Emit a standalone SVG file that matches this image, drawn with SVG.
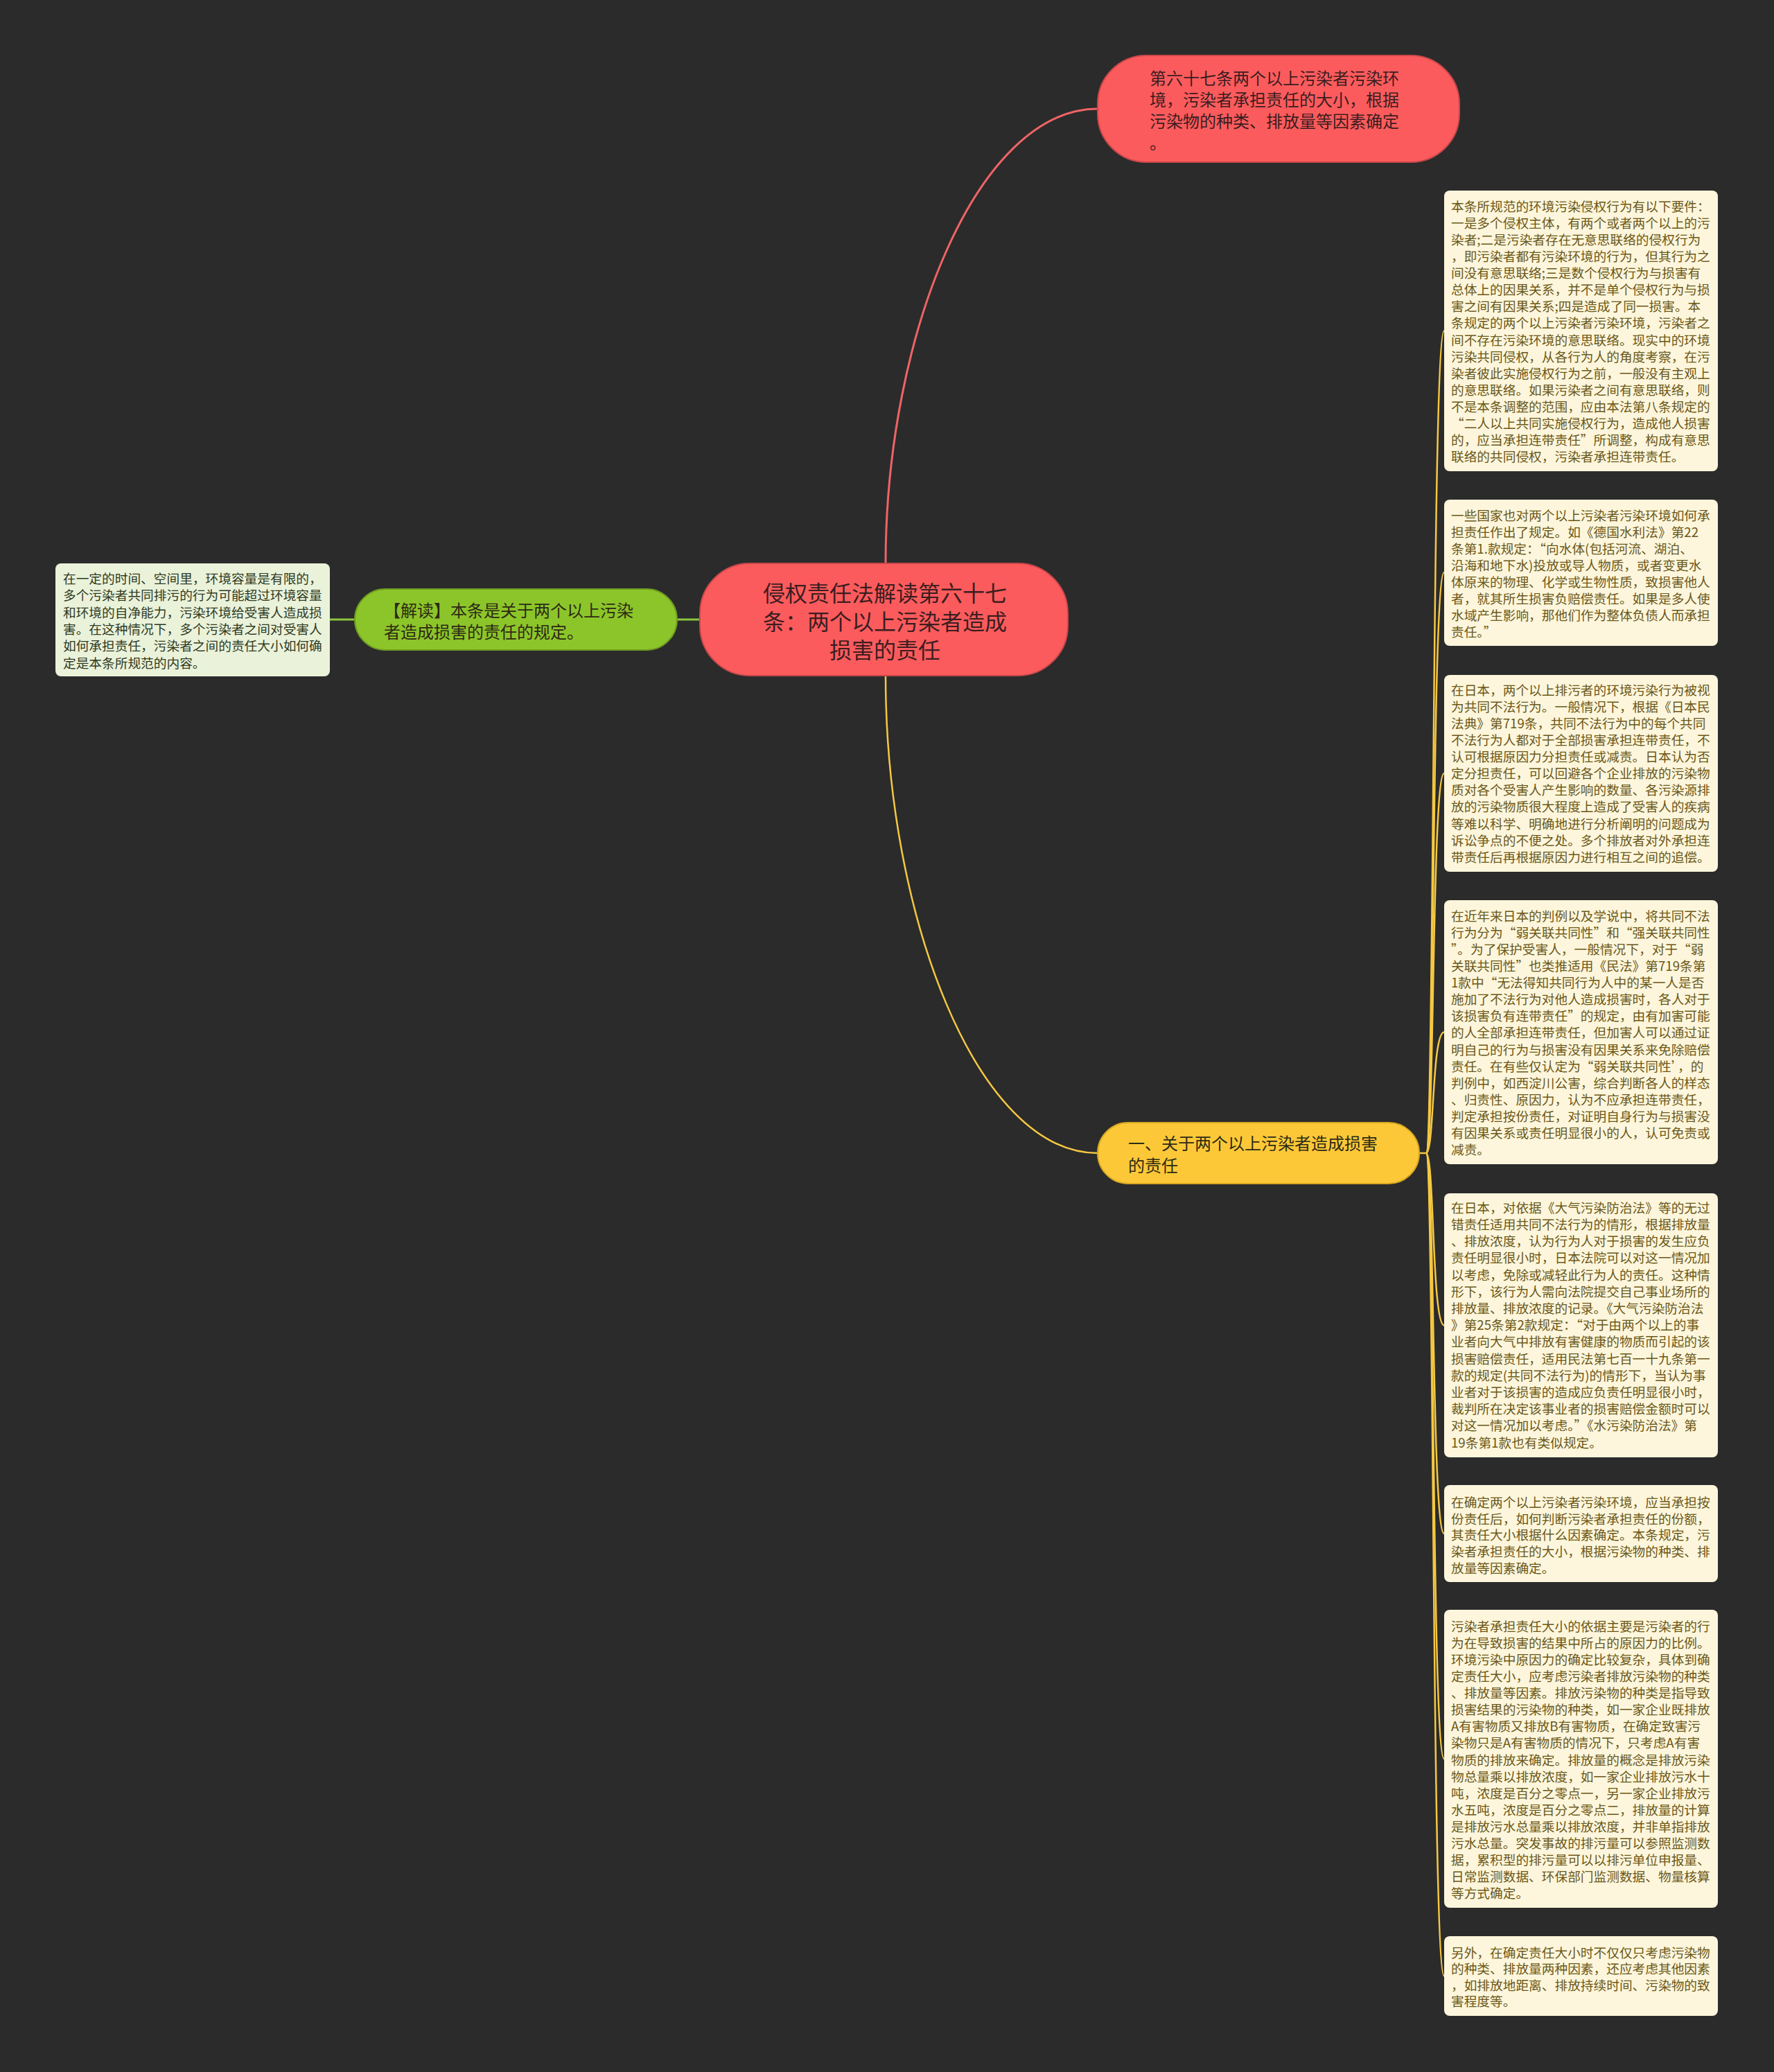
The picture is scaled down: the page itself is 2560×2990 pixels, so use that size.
<svg xmlns="http://www.w3.org/2000/svg" width="2560" height="2990" viewBox="0 0 2560 2990">
<style>
text{font-family:"Noto Sans CJK SC","Noto Sans",sans-serif;}
.box{fill:#fdf6dc;}
.bt{font-size:18.7px;fill:#6b5718;}
.lbox{fill:#eaf2da;}
.lt{font-size:18.7px;fill:#2f3a22;}
.red{fill:#fb5b5c;stroke:#c8474a;stroke-width:2;}
.rt{fill:#3b1d21;}
.grn{fill:#8cc52a;stroke:#6f9d1f;stroke-width:2;}
.yel{fill:#fcc838;stroke:#d9a820;stroke-width:2;}
.dt{fill:#2c2a14;font-size:24px;}
.cr{fill:none;stroke:#ef6466;stroke-width:3;}
.cy{fill:none;stroke:#f5c842;stroke-width:2.5;}
.cg{fill:none;stroke:#8cc63f;stroke-width:3;}
</style>
<rect x="0" y="0" width="2560" height="2990" fill="#2b2b2b"/>

<g id="connectors">
<path class="cr" d="M1278,813 C1278,485 1410,157 1584,157"/>
<path class="cy" d="M1278,975 C1278,1320 1410,1664 1584,1664"/>
<path class="cg" d="M476,894 L512,894"/>
<path class="cg" d="M977,894 L1010,894"/>
<path class="cy" d="M2048,1664 L2058,1664"/>
<path class="cy" d="M2058,1664 C2070,1664 2066,477.5 2084,477.5"/>
<path class="cy" d="M2058,1664 C2070,1664 2066,826 2084,826"/>
<path class="cy" d="M2058,1664 C2070,1664 2066,1116 2084,1116"/>
<path class="cy" d="M2058,1664 C2070,1664 2066,1489.5 2084,1489.5"/>
<path class="cy" d="M2058,1664 C2070,1664 2066,1912.5 2084,1912.5"/>
<path class="cy" d="M2058,1664 C2070,1664 2066,2213 2084,2213"/>
<path class="cy" d="M2058,1664 C2070,1664 2066,2538 2084,2538"/>
<path class="cy" d="M2058,1664 C2070,1664 2066,2851.5 2084,2851.5"/>
</g>

<g id="center">
<rect class="red" x="1010" y="813" width="531" height="162" rx="72" ry="72"/>
<text class="rt" font-size="32" text-anchor="middle"><tspan x="1277" y="867.5">侵权责任法解读第六十七</tspan><tspan x="1277" y="908.5">条：两个以上污染者造成</tspan><tspan x="1277" y="949.5">损害的责任</tspan></text>
</g>

<g id="top-node">
<rect class="red" x="1584" y="80" width="522" height="154" rx="70" ry="70"/>
<text class="rt" font-size="24"><tspan x="1659" y="121.6">第六十七条两个以上污染者污染环</tspan><tspan x="1659" y="152.6">境，污染者承担责任的大小，根据</tspan><tspan x="1659" y="183.6">污染物的种类、排放量等因素确定</tspan><tspan x="1659" y="214.6">。</tspan></text>
</g>

<g id="green-node">
<rect class="grn" x="512" y="850" width="465" height="88" rx="44" ry="44"/>
<text class="dt"><tspan x="554" y="889.6">【解读】本条是关于两个以上污染</tspan><tspan x="554" y="920.6">者造成损害的责任的规定。</tspan></text>
</g>

<g id="left-box">
<rect class="lbox" x="80" y="813" width="396" height="163" rx="8" ry="8"/>
<text class="lt"><tspan x="91" y="841.7">在一定的时间、空间里，环境容量是有限的，</tspan><tspan x="91" dy="24.4">多个污染者共同排污的行为可能超过环境容量</tspan><tspan x="91" dy="24.4">和环境的自净能力，污染环境给受害人造成损</tspan><tspan x="91" dy="24.4">害。在这种情况下，多个污染者之间对受害人</tspan><tspan x="91" dy="24.4">如何承担责任，污染者之间的责任大小如何确</tspan><tspan x="91" dy="24.4">定是本条所规范的内容。</tspan></text>
</g>

<g id="yellow-node">
<rect class="yel" x="1584" y="1620" width="464" height="88" rx="44" ry="44"/>
<text class="dt"><tspan x="1628" y="1658.6">一、关于两个以上污染者造成损害</tspan><tspan x="1628" y="1690.6">的责任</tspan></text>
</g>

<g id="box1">
<rect class="box" x="2084" y="275" width="395" height="405" rx="8" ry="8"/>
<text class="bt"><tspan x="2094" y="304.7">本条所规范的环境污染侵权行为有以下要件：</tspan><tspan x="2094" dy="24.1">一是多个侵权主体，有两个或者两个以上的污</tspan><tspan x="2094" dy="24.1">染者;二是污染者存在无意思联络的侵权行为</tspan><tspan x="2094" dy="24.1">，即污染者都有污染环境的行为，但其行为之</tspan><tspan x="2094" dy="24.1">间没有意思联络;三是数个侵权行为与损害有</tspan><tspan x="2094" dy="24.1">总体上的因果关系，并不是单个侵权行为与损</tspan><tspan x="2094" dy="24.1">害之间有因果关系;四是造成了同一损害。本</tspan><tspan x="2094" dy="24.1">条规定的两个以上污染者污染环境，污染者之</tspan><tspan x="2094" dy="24.1">间不存在污染环境的意思联络。现实中的环境</tspan><tspan x="2094" dy="24.1">污染共同侵权，从各行为人的角度考察，在污</tspan><tspan x="2094" dy="24.1">染者彼此实施侵权行为之前，一般没有主观上</tspan><tspan x="2094" dy="24.1">的意思联络。如果污染者之间有意思联络，则</tspan><tspan x="2094" dy="24.1">不是本条调整的范围，应由本法第八条规定的</tspan><tspan x="2094" dy="24.1">“二人以上共同实施侵权行为，造成他人损害</tspan><tspan x="2094" dy="24.1">的，应当承担连带责任”所调整，构成有意思</tspan><tspan x="2094" dy="24.1">联络的共同侵权，污染者承担连带责任。</tspan></text>
</g>

<g id="box2">
<rect class="box" x="2084" y="721" width="395" height="211" rx="8" ry="8"/>
<text class="bt"><tspan x="2094" y="750.7">一些国家也对两个以上污染者污染环境如何承</tspan><tspan x="2094" dy="24">担责任作出了规定。如《德国水利法》第22</tspan><tspan x="2094" dy="24">条第1.款规定：“向水体(包括河流、湖泊、</tspan><tspan x="2094" dy="24">沿海和地下水)投放或导人物质，或者变更水</tspan><tspan x="2094" dy="24">体原来的物理、化学或生物性质，致损害他人</tspan><tspan x="2094" dy="24">者，就其所生损害负赔偿责任。如果是多人使</tspan><tspan x="2094" dy="24">水域产生影响，那他们作为整体负债人而承担</tspan><tspan x="2094" dy="24">责任。”</tspan></text>
</g>

<g id="box3">
<rect class="box" x="2084" y="974" width="395" height="284" rx="8" ry="8"/>
<text class="bt"><tspan x="2094" y="1002.7">在日本，两个以上排污者的环境污染行为被视</tspan><tspan x="2094" dy="24.1">为共同不法行为。一般情况下，根据《日本民</tspan><tspan x="2094" dy="24.1">法典》第719条，共同不法行为中的每个共同</tspan><tspan x="2094" dy="24.1">不法行为人都对于全部损害承担连带责任，不</tspan><tspan x="2094" dy="24.1">认可根据原因力分担责任或减责。日本认为否</tspan><tspan x="2094" dy="24.1">定分担责任，可以回避各个企业排放的污染物</tspan><tspan x="2094" dy="24.1">质对各个受害人产生影响的数量、各污染源排</tspan><tspan x="2094" dy="24.1">放的污染物质很大程度上造成了受害人的疾病</tspan><tspan x="2094" dy="24.1">等难以科学、明确地进行分析阐明的问题成为</tspan><tspan x="2094" dy="24.1">诉讼争点的不便之处。多个排放者对外承担连</tspan><tspan x="2094" dy="24.1">带责任后再根据原因力进行相互之间的追偿。</tspan></text>
</g>

<g id="box4">
<rect class="box" x="2084" y="1299" width="395" height="381" rx="8" ry="8"/>
<text class="bt"><tspan x="2094" y="1328.7">在近年来日本的判例以及学说中，将共同不法</tspan><tspan x="2094" dy="24.1">行为分为“弱关联共同性”和“强关联共同性</tspan><tspan x="2094" dy="24.1">”。为了保护受害人，一般情况下，对于“弱</tspan><tspan x="2094" dy="24.1">关联共同性”也类推适用《民法》第719条第</tspan><tspan x="2094" dy="24.1">1款中“无法得知共同行为人中的某一人是否</tspan><tspan x="2094" dy="24.1">施加了不法行为对他人造成损害时，各人对于</tspan><tspan x="2094" dy="24.1">该损害负有连带责任”的规定，由有加害可能</tspan><tspan x="2094" dy="24.1">的人全部承担连带责任，但加害人可以通过证</tspan><tspan x="2094" dy="24.1">明自己的行为与损害没有因果关系来免除赔偿</tspan><tspan x="2094" dy="24.1">责任。在有些仅认定为“弱关联共同性’，的</tspan><tspan x="2094" dy="24.1">判例中，如西淀川公害，综合判断各人的样态</tspan><tspan x="2094" dy="24.1">、归责性、原因力，认为不应承担连带责任，</tspan><tspan x="2094" dy="24.1">判定承担按份责任，对证明自身行为与损害没</tspan><tspan x="2094" dy="24.1">有因果关系或责任明显很小的人，认可免责或</tspan><tspan x="2094" dy="24.1">减责。</tspan></text>
</g>

<g id="box5">
<rect class="box" x="2084" y="1722" width="395" height="381" rx="8" ry="8"/>
<text class="bt"><tspan x="2094" y="1749.7">在日本，对依据《大气污染防治法》等的无过</tspan><tspan x="2094" dy="24.2">错责任适用共同不法行为的情形，根据排放量</tspan><tspan x="2094" dy="24.2">、排放浓度，认为行为人对于损害的发生应负</tspan><tspan x="2094" dy="24.2">责任明显很小时，日本法院可以对这一情况加</tspan><tspan x="2094" dy="24.2">以考虑，免除或减轻此行为人的责任。这种情</tspan><tspan x="2094" dy="24.2">形下，该行为人需向法院提交自己事业场所的</tspan><tspan x="2094" dy="24.2">排放量、排放浓度的记录。《大气污染防治法</tspan><tspan x="2094" dy="24.2">》第25条第2款规定：“对于由两个以上的事</tspan><tspan x="2094" dy="24.2">业者向大气中排放有害健康的物质而引起的该</tspan><tspan x="2094" dy="24.2">损害赔偿责任，适用民法第七百一十九条第一</tspan><tspan x="2094" dy="24.2">款的规定(共同不法行为)的情形下，当认为事</tspan><tspan x="2094" dy="24.2">业者对于该损害的造成应负责任明显很小时，</tspan><tspan x="2094" dy="24.2">裁判所在决定该事业者的损害赔偿金额时可以</tspan><tspan x="2094" dy="24.2">对这一情况加以考虑。”《水污染防治法》第</tspan><tspan x="2094" dy="24.2">19条第1款也有类似规定。</tspan></text>
</g>

<g id="box6">
<rect class="box" x="2084" y="2143" width="395" height="140" rx="8" ry="8"/>
<text class="bt"><tspan x="2094" y="2174.7">在确定两个以上污染者污染环境，应当承担按</tspan><tspan x="2094" dy="23.8">份责任后，如何判断污染者承担责任的份额，</tspan><tspan x="2094" dy="23.8">其责任大小根据什么因素确定。本条规定，污</tspan><tspan x="2094" dy="23.8">染者承担责任的大小，根据污染物的种类、排</tspan><tspan x="2094" dy="23.8">放量等因素确定。</tspan></text>
</g>

<g id="box7">
<rect class="box" x="2084" y="2323" width="395" height="430" rx="8" ry="8"/>
<text class="bt"><tspan x="2094" y="2353.7">污染者承担责任大小的依据主要是污染者的行</tspan><tspan x="2094" dy="24.1">为在导致损害的结果中所占的原因力的比例。</tspan><tspan x="2094" dy="24.1">环境污染中原因力的确定比较复杂，具体到确</tspan><tspan x="2094" dy="24.1">定责任大小，应考虑污染者排放污染物的种类</tspan><tspan x="2094" dy="24.1">、排放量等因素。排放污染物的种类是指导致</tspan><tspan x="2094" dy="24.1">损害结果的污染物的种类，如一家企业既排放</tspan><tspan x="2094" dy="24.1">A有害物质又排放B有害物质，在确定致害污</tspan><tspan x="2094" dy="24.1">染物只是A有害物质的情况下，只考虑A有害</tspan><tspan x="2094" dy="24.1">物质的排放来确定。排放量的概念是排放污染</tspan><tspan x="2094" dy="24.1">物总量乘以排放浓度，如一家企业排放污水十</tspan><tspan x="2094" dy="24.1">吨，浓度是百分之零点一，另一家企业排放污</tspan><tspan x="2094" dy="24.1">水五吨，浓度是百分之零点二，排放量的计算</tspan><tspan x="2094" dy="24.1">是排放污水总量乘以排放浓度，并非单指排放</tspan><tspan x="2094" dy="24.1">污水总量。突发事故的排污量可以参照监测数</tspan><tspan x="2094" dy="24.1">据，累积型的排污量可以以排污单位申报量、</tspan><tspan x="2094" dy="24.1">日常监测数据、环保部门监测数据、物量核算</tspan><tspan x="2094" dy="24.1">等方式确定。</tspan></text>
</g>

<g id="box8">
<rect class="box" x="2084" y="2794" width="395" height="115" rx="8" ry="8"/>
<text class="bt"><tspan x="2094" y="2824.7">另外，在确定责任大小时不仅仅只考虑污染物</tspan><tspan x="2094" dy="23.5">的种类、排放量两种因素，还应考虑其他因素</tspan><tspan x="2094" dy="23.5">，如排放地距离、排放持续时间、污染物的致</tspan><tspan x="2094" dy="23.5">害程度等。</tspan></text>
</g>
</svg>
